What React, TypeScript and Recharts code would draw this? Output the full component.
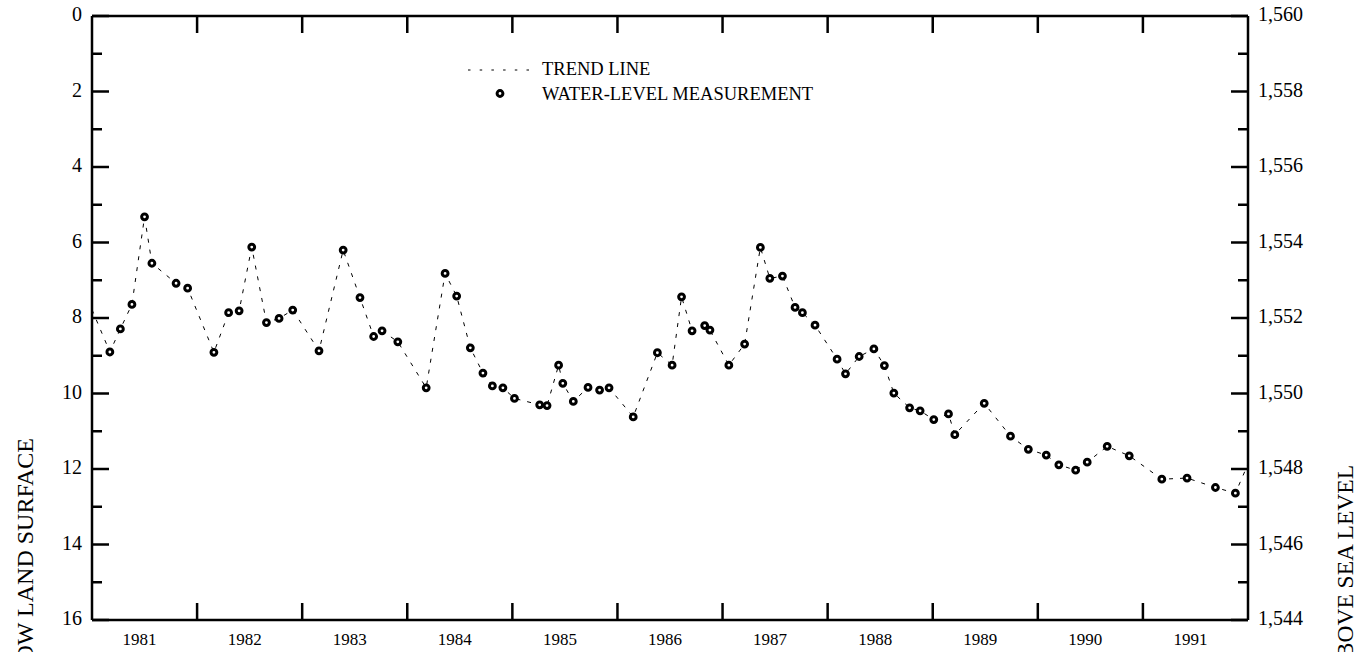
import React from "react";
import {
  ComposedChart,
  Line,
  Scatter,
  XAxis,
  YAxis,
  Legend,
} from "recharts";

// Decimal-year dates of each water-level measurement
const measureYears = [
  1981.17, 1981.27, 1981.38, 1981.5, 1981.57, 1981.8, 1981.91,
  1982.16, 1982.3, 1982.4, 1982.52, 1982.66, 1982.78, 1982.91,
  1983.16, 1983.39, 1983.55, 1983.68, 1983.76, 1983.91,
  1984.18, 1984.36, 1984.47, 1984.6, 1984.72, 1984.81, 1984.91,
  1985.02, 1985.26, 1985.33, 1985.44, 1985.48, 1985.58, 1985.72, 1985.83, 1985.92,
  1986.15, 1986.38, 1986.52, 1986.61, 1986.71, 1986.83, 1986.88,
  1987.06, 1987.21, 1987.36, 1987.45, 1987.57, 1987.69, 1987.76, 1987.88,
  1988.09, 1988.17, 1988.3, 1988.44, 1988.54, 1988.63, 1988.78, 1988.88,
  1989.01, 1989.15, 1989.21, 1989.49, 1989.74, 1989.91,
  1990.08, 1990.2, 1990.36, 1990.47, 1990.66, 1990.87,
  1991.18, 1991.42, 1991.69, 1991.88,
];

// Depth to water, feet below land surface
const measureDepths = [
  8.9, 8.29, 7.64, 5.32, 6.55, 7.08, 7.21,
  8.91, 7.86, 7.81, 6.12, 8.12, 8.01, 7.79,
  8.87, 6.2, 7.46, 8.49, 8.34, 8.63,
  9.85, 6.82, 7.42, 8.79, 9.46, 9.8, 9.85,
  10.13, 10.3, 10.32, 9.25, 9.73, 10.21, 9.84, 9.91, 9.85,
  10.62, 8.92, 9.25, 7.44, 8.34, 8.2, 8.32,
  9.25, 8.69, 6.13, 6.95, 6.89, 7.72, 7.86, 8.19,
  9.09, 9.48, 9.02, 8.82, 9.26, 9.99, 10.38, 10.46,
  10.69, 10.54, 11.09, 10.26, 11.13, 11.48,
  11.63, 11.89, 12.03, 11.82, 11.4, 11.65,
  12.27, 12.24, 12.49, 12.64,
];

// trend line runs off both edges of the plot
const trendEdgeYears = [1981.0, 1992.0];
const trendEdgeDepths = [7.78, 11.87];

const yearLabels = [1981, 1982, 1983, 1984, 1985, 1986, 1987, 1988, 1989, 1990, 1991];
const yearBoundaries = [1982, 1983, 1984, 1985, 1986, 1987, 1988, 1989, 1990, 1991];
const depthTicks = [0, 1, 2, 3, 4, 5, 6, 7, 8, 9, 10, 11, 12, 13, 14, 15, 16];
const altitudeTicks = [1544, 1545, 1546, 1547, 1548, 1549, 1550, 1551, 1552, 1553, 1554, 1555, 1556, 1557, 1558, 1559, 1560];

const LAND_SURFACE_ALT = 1560;
const FONT = "'Liberation Serif', 'Times New Roman', serif";
const AXIS_W = 2.5;

const measurements = measureYears.map((year, i) => ({ year, depth: measureDepths[i] }));

const trendData = [
  { year: trendEdgeYears[0], depth: trendEdgeDepths[0] },
  ...measurements,
  { year: trendEdgeYears[1], depth: trendEdgeDepths[1] },
];

const altitudeData = measurements.map((m) => ({ year: m.year, alt: LAND_SURFACE_ALT - m.depth }));

const bottomTicks = [...yearBoundaries, ...yearLabels.map((y) => y + 0.5)].sort((a, b) => a - b);

function BottomTick({ x, y, payload }: any) {
  const v = payload.value as number;
  if (Number.isInteger(v)) {
    return <line x1={x} x2={x} y1={y} y2={y - 17} stroke="#000" strokeWidth={AXIS_W} />;
  }
  return (
    <text x={x} y={y + 25} dx={-5} textAnchor="middle" fontSize={17} fontFamily={FONT} fill="#000">
      {Math.floor(v)}
    </text>
  );
}

function TopTick({ x, y }: any) {
  return <line x1={x} x2={x} y1={y} y2={y + 17} stroke="#000" strokeWidth={AXIS_W} />;
}

function LeftTick({ x, y, payload }: any) {
  const major = payload.value % 2 === 0;
  return (
    <g>
      <line x1={x} x2={x + (major ? 17 : 10)} y1={y} y2={y} stroke="#000" strokeWidth={AXIS_W} />
      {major && (
        <text x={x - 10} y={y + 5} textAnchor="end" fontSize={20} fontFamily={FONT} fill="#000">
          {payload.value}
        </text>
      )}
    </g>
  );
}

function RightTick({ x, y, payload }: any) {
  const major = payload.value % 2 === 0;
  return (
    <g>
      <line x1={x} x2={x - (major ? 17 : 10)} y1={y} y2={y} stroke="#000" strokeWidth={AXIS_W} />
      {major && (
        <text x={x + 10} y={y + 5} textAnchor="start" fontSize={20} fontFamily={FONT} fill="#000">
          {payload.value.toLocaleString("en-US")}
        </text>
      )}
    </g>
  );
}

function LeftTitle() {
  return (
    <text
      transform="translate(33, 438) rotate(-90)"
      textAnchor="end"
      fontSize={24}
      fontFamily={FONT}
      fill="#000"
    >
      DEPTH TO WATER LEVEL, IN FEET BELOW LAND SURFACE
    </text>
  );
}

function RightTitle() {
  return (
    <text
      transform="translate(1353, 465) rotate(-90)"
      textAnchor="end"
      fontSize={23.5}
      fontFamily={FONT}
      fill="#000"
    >
      ALTITUDE OF WATER LEVEL, IN FEET ABOVE SEA LEVEL
    </text>
  );
}

function Marker({ cx, cy }: any) {
  return <circle cx={cx} cy={cy} r={2.9} fill="#fff" stroke="#000" strokeWidth={3} />;
}

function LegendBox() {
  return (
    <svg width={400} height={50} style={{ display: "block" }}>
      <line x1={8} x2={74} y1={12} y2={12} stroke="#000" strokeWidth={1} strokeDasharray="2.5 9.2" />
      <text x={82} y={17} fontSize={18.5} fontFamily={FONT} fill="#000">
        TREND LINE
      </text>
      <circle cx={40} cy={35.5} r={2.9} fill="#fff" stroke="#000" strokeWidth={3} />
      <text x={82} y={42} fontSize={18.5} fontFamily={FONT} fill="#000">
        WATER-LEVEL MEASUREMENT
      </text>
    </svg>
  );
}

export default function App() {
  return (
    <div style={{ position: "absolute", left: 0, top: 0, width: 1372, height: 652, background: "#fff" }}>
      <ComposedChart width={1372} height={652} margin={{ top: 0, right: 0, bottom: 0, left: 0 }}>
        <XAxis
          xAxisId="bottom"
          type="number"
          dataKey="year"
          domain={[1981, 1992]}
          allowDataOverflow
          ticks={bottomTicks}
          interval={0}
          height={32}
          tickSize={0}
          tickMargin={0}
          tickLine={false}
          axisLine={{ stroke: "#000", strokeWidth: AXIS_W }}
          tick={<BottomTick />}
        />
        <XAxis
          xAxisId="top"
          orientation="top"
          type="number"
          dataKey="year"
          domain={[1981, 1992]}
          allowDataOverflow
          ticks={yearBoundaries}
          interval={0}
          height={16}
          tickSize={0}
          tickMargin={0}
          tickLine={false}
          axisLine={{ stroke: "#000", strokeWidth: AXIS_W }}
          tick={<TopTick />}
        />
        <YAxis
          yAxisId="left"
          type="number"
          dataKey="depth"
          domain={[0, 16]}
          allowDataOverflow
          reversed
          ticks={depthTicks}
          interval={0}
          width={92}
          tickSize={0}
          tickMargin={0}
          tickLine={false}
          axisLine={{ stroke: "#000", strokeWidth: AXIS_W }}
          tick={<LeftTick />}
          label={<LeftTitle />}
        />
        <YAxis
          yAxisId="right"
          orientation="right"
          type="number"
          dataKey="alt"
          domain={[1544, 1560]}
          allowDataOverflow
          ticks={altitudeTicks}
          interval={0}
          width={124}
          tickSize={0}
          tickMargin={0}
          tickLine={false}
          axisLine={{ stroke: "#000", strokeWidth: AXIS_W }}
          tick={<RightTick />}
          label={<RightTitle />}
        />
        <Legend
          layout="vertical"
          align="center"
          verticalAlign="middle"
          wrapperStyle={{ position: "absolute", left: 460, top: 58, width: 400, height: 50 }}
          content={() => <LegendBox />}
        />
        <Line
          data={altitudeData}
          xAxisId="top"
          yAxisId="right"
          dataKey="alt"
          stroke="none"
          dot={false}
          activeDot={false}
          legendType="none"
          isAnimationActive={false}
        />
        <Line
          data={trendData}
          xAxisId="bottom"
          yAxisId="left"
          type="linear"
          dataKey="depth"
          stroke="#000"
          strokeWidth={1}
          strokeDasharray="4 7"
          dot={false}
          activeDot={false}
          isAnimationActive={false}
        />
        <Scatter
          data={measurements}
          xAxisId="bottom"
          yAxisId="left"
          dataKey="depth"
          shape={<Marker />}
          isAnimationActive={false}
        />
      </ComposedChart>
    </div>
  );
}
